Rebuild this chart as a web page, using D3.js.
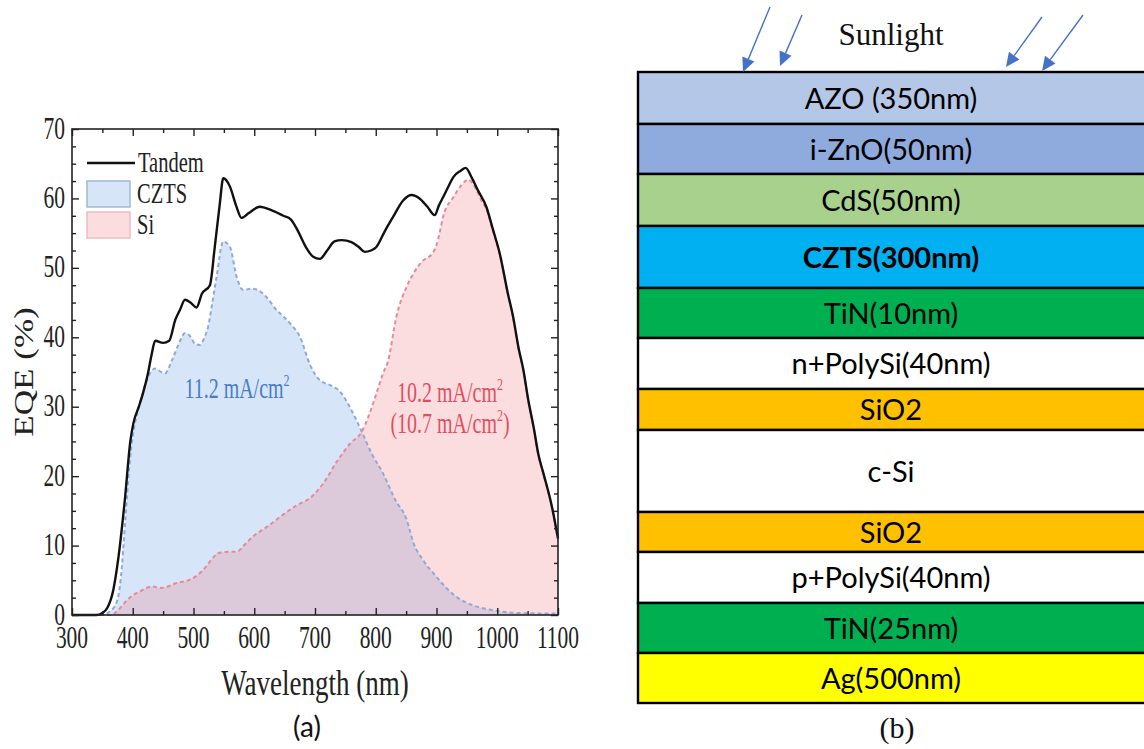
<!DOCTYPE html>
<html>
<head>
<meta charset="utf-8">
<script src="https://cdn.jsdelivr.net/npm/d3@7"></script>
<style>
  body { margin: 0; background: #fff; }
  svg { display: block; }
  .serif { font-family: "Liberation Serif", "Times New Roman", serif; }
  .sans { font-family: Lato, "Open Sans", sans-serif; }
</style>
</head>
<body>
<svg id="fig" width="1144" height="749"></svg>
<script>
// ---- data: [wavelength nm, EQE %] ----
const tandem = [[300,0],[340,0],[350,0.3],[358,1],[368,3.6],[376,8],[387,16.6],[396,25],[401,27.6],[410,30],
  [417,32],[425,34.8],[431,37.5],[437,39.5],[450,39.2],[460,39.5],[470,42.5],[478,44],[486,45.4],[495,45],
  [505,44.3],[514,46.3],[527,47.5],[535,53],[543,59],[549,62.9],[560,61.7],[570,59],[579,57.2],[591,57.9],
  [609,58.8],[628,58.3],[648,57.5],[660,57],[672,55.3],[685,53],[697,51.6],[708,51.3],[720,52.5],[732,53.8],
  [744,54],[760,53.7],[772,53],[782,52.3],[792,52.5],[801,53],[815,55.3],[829,57.4],[845,59.7],[859,60.5],
  [872,60],[885,58.8],[897,57.6],[904,59],[911,60.2],[920,61.8],[928,63.1],[940,64],[948,64.4],[958,63],
  [968,61.2],[982,58.8],[993,55.5],[1004,52.1],[1017,46.5],[1026,43],[1035,38.5],[1043,35.3],[1051,31],
  [1060,27],[1068,23],[1076,20.4],[1090,15.6],[1100,11]];

const czts = [[300,0],[350,0],[362,0.5],[373,1.7],[380,5],[388,14],[394,21],[398,24.5],[406,28.6],[415,31.5],
  [423,33.8],[437,35.5],[447,35],[453,34.8],[466,37],[478,39.5],[486,40.6],[495,40.1],[503,39],[511,38.9],
  [518,40],[524,41.5],[531,45],[538,48.7],[549,53.8],[560,53],[571,48.7],[582,46.8],[595,47],[606,46.8],
  [620,45.8],[637,43.9],[648,43],[659,42],[675,40.1],[692,36],[708,33.8],[725,33.1],[741,32.2],[760,29.5],
  [777,26.4],[793,23.3],[812,20.4],[832,16.6],[851,13.7],[862,10.4],[878,7.9],[900,5.5],[915,4],[933,2.6],
  [960,1.4],[993,0.7],[1030,0.3],[1100,0.2]];

const si = [[300,0],[365,0],[371,0.3],[379,1],[387,1.8],[395,2.5],[412,3.4],[431,4.1],[448,3.9],[472,4.6],
  [499,5.3],[516,6.5],[530,8],[540,8.9],[560,9.1],[571,9.1],[585,10.2],[598,11.3],[626,13],[648,14.5],
  [670,15.8],[694,17],[714,19],[736,22.1],[758,24.7],[777,26.4],[788,28.6],[801,31.9],[812,34.8],[820,36.5],
  [834,43],[851,47.3],[862,49.2],[876,50.9],[895,52.3],[900,53.3],[905,55],[911,57.4],[928,60.2],[941,61.9],
  [952,62.7],[966,61.2],[975,59.5],[982,58.5],[993,55.3],[1004,52],[1017,46.4],[1026,42.9],[1035,38.4],
  [1043,35.2],[1051,30.9],[1060,26.9],[1068,22.9],[1076,20.3],[1090,15.5],[1100,10.9]];

const wlTicks = [300,400,500,600,700,800,900,1000,1100];
const wlMinor = [350,450,550,650,750,850,950,1050];
const eqeTicks = [0,10,20,30,40,50,60,70];
const eqeMinor = d3.range(0, 70.1, 2.5).filter(v => v % 10 !== 0);

// ---- device stack (b) ----
const layerNames = ["AZO (350nm)","i-ZnO(50nm)","CdS(50nm)","CZTS(300nm)","TiN(10nm)","n+PolySi(40nm)",
  "SiO2","c-Si","SiO2","p+PolySi(40nm)","TiN(25nm)","Ag(500nm)"];
const layerColors = ["#b4c7e7","#8faadc","#a9d18e","#00b0f0","#00b050","#ffffff",
  "#ffc000","#ffffff","#ffc000","#ffffff","#00b050","#ffff00"];
const layerUnits = [52,50,52,62,50,51,41,82,40,51,50,50];
const boldLayer = "CZTS(300nm)";

const svg = d3.select("#fig");

// ---------- panel (a) ----------
const m = { left: 72, right: 558, top: 129, bottom: 615 };
const x = d3.scaleLinear().domain([300, 1100]).range([m.left, m.right]);
const y = d3.scaleLinear().domain([0, 70]).range([m.bottom, m.top]);

const blueFill = "rgb(120,170,230)", redFill = "rgb(240,120,130)";

const area = d3.area().x(d => x(d[0])).y0(y(0)).y1(d => y(d[1])).curve(d3.curveMonotoneX);
const line = d3.line().x(d => x(d[0])).y(d => y(d[1])).curve(d3.curveMonotoneX);

const pa = svg.append("g");
pa.append("path").datum(czts).attr("d", area).attr("fill", blueFill).attr("fill-opacity", 0.3);
pa.append("path").datum(si).attr("d", area).attr("fill", redFill).attr("fill-opacity", 0.25);
pa.append("path").datum(czts).attr("d", line).attr("fill", "none")
  .attr("stroke", "#8fa9d6").attr("stroke-width", 2).attr("stroke-dasharray", "4,3");
pa.append("path").datum(si).attr("d", line).attr("fill", "none")
  .attr("stroke", "#e8899a").attr("stroke-width", 2).attr("stroke-dasharray", "4,3");
pa.append("path").datum(tandem).attr("d", line).attr("fill", "none")
  .attr("stroke", "#111").attr("stroke-width", 2.4);

// frame + inward ticks on all four sides
pa.append("rect").attr("x", m.left).attr("y", m.top)
  .attr("width", m.right - m.left).attr("height", m.bottom - m.top)
  .attr("fill", "none").attr("stroke", "#222").attr("stroke-width", 1.6);

function ticks(axis, transform, values, size) {
  const g = pa.append("g").attr("transform", transform)
    .call(axis.tickValues(values).tickSize(-size).tickFormat(""));
  g.select(".domain").remove();
  g.selectAll("line").attr("stroke", "#222").attr("stroke-width", 1.4);
}
ticks(d3.axisBottom(x), `translate(0,${m.bottom})`, wlTicks, 7);
ticks(d3.axisBottom(x), `translate(0,${m.bottom})`, wlMinor, 4);
ticks(d3.axisTop(x), `translate(0,${m.top})`, wlTicks, 7);
ticks(d3.axisTop(x), `translate(0,${m.top})`, wlMinor, 4);
ticks(d3.axisLeft(y), `translate(${m.left},0)`, eqeTicks, 7);
ticks(d3.axisLeft(y), `translate(${m.left},0)`, eqeMinor, 4);
ticks(d3.axisRight(y), `translate(${m.right},0)`, eqeTicks, 7);
ticks(d3.axisRight(y), `translate(${m.right},0)`, eqeMinor, 4);

// text in the source figure is vertically stretched, so scale glyphs in y
function stext(g, px, py, sy, str) {
  return g.append("text").attr("class", "serif")
    .attr("transform", `translate(${px},${py}) scale(1,${sy})`).text(str);
}

pa.selectAll(".xl").data(wlTicks).join(d => d.append("text"))
  .attr("class", "serif").attr("text-anchor", "middle").attr("font-size", 21.5).attr("fill", "#222")
  .attr("transform", d => `translate(${x(d)},${648}) scale(1,1.45)`).text(d => d);
pa.selectAll(".yl").data(eqeTicks).join(d => d.append("text"))
  .attr("class", "serif").attr("text-anchor", "end").attr("font-size", 21.5).attr("fill", "#222")
  .attr("transform", d => `translate(${65},${y(d) + 9.5}) scale(1,1.45)`).text(d => d);

stext(pa, (m.left + m.right) / 2, 695, 1.3, "Wavelength (nm)")
  .attr("text-anchor", "middle").attr("font-size", 27).attr("fill", "#222");
pa.append("text").attr("class", "serif").attr("text-anchor", "middle")
  .attr("font-size", 27).attr("fill", "#222")
  .attr("transform", `translate(33,${(m.top + m.bottom) / 2}) rotate(-90) scale(1.3,1)`)
  .text("EQE (%)");

// legend
pa.append("line").attr("x1", 87).attr("x2", 135).attr("y1", 163).attr("y2", 163)
  .attr("stroke", "#111").attr("stroke-width", 2.4);
stext(pa, 138, 172, 1.4, "Tandem").attr("font-size", 20.5).attr("fill", "#222");
pa.append("rect").attr("x", 87).attr("y", 181).attr("width", 43).attr("height", 26)
  .attr("fill", blueFill).attr("fill-opacity", 0.3).attr("stroke", "#a4b6cf").attr("stroke-width", 1.5);
stext(pa, 137, 203, 1.4, "CZTS").attr("font-size", 20.5).attr("fill", "#222");
pa.append("rect").attr("x", 87).attr("y", 212).attr("width", 43).attr("height", 26)
  .attr("fill", redFill).attr("fill-opacity", 0.25).attr("stroke", "#edbcc3").attr("stroke-width", 1.5);
stext(pa, 137, 234, 1.4, "Si").attr("font-size", 20.5).attr("fill", "#222");

// current density annotations
function jsc(px, py, color, pre, post) {
  const t = stext(pa, px, py, 1.45, "").attr("text-anchor", "middle").attr("font-size", 20).attr("fill", color);
  t.append("tspan").text(pre);
  t.append("tspan").attr("font-size", 12).attr("dy", -8).text("2");
  if (post) t.append("tspan").attr("dy", 8).text(post);
  return t;
}
jsc(237, 398, "#4a7cc6", "11.2 mA/cm");
jsc(450, 402, "#df4f5f", "10.2 mA/cm");
jsc(450, 433, "#df4f5f", "(10.7 mA/cm", ")");

svg.append("text").attr("class", "sans").attr("x", 307).attr("y", 737)
  .attr("text-anchor", "middle").attr("font-size", 28).attr("fill", "#111").text("(a)");

// ---------- panel (b) ----------
const pb = svg.append("g");
const stackY = d3.scaleLinear().domain([0, d3.sum(layerUnits)]).range([72, 703]);
const starts = d3.cumsum([0, ...layerUnits]);
const layers = layerNames.map((name, i) => ({ name, color: layerColors[i], y0: starts[i], y1: starts[i + 1] }));

pb.selectAll("rect").data(layers).join("rect")
  .attr("x", 638).attr("width", 530)
  .attr("y", d => stackY(d.y0)).attr("height", d => stackY(d.y1) - stackY(d.y0))
  .attr("fill", d => d.color).attr("stroke", "#000").attr("stroke-width", 2.4);
pb.selectAll("text").data(layers).join("text")
  .attr("class", "sans").attr("x", 891)
  .attr("y", d => (stackY(d.y0) + stackY(d.y1)) / 2 + 10.5)
  .attr("text-anchor", "middle").attr("font-size", 29)
  .attr("font-weight", d => d.name === boldLayer ? 700 : 400)
  .attr("fill", "#000").text(d => d.name);

pb.append("text").attr("class", "serif").attr("x", 891).attr("y", 45)
  .attr("text-anchor", "middle").attr("font-size", 31).attr("fill", "#111").text("Sunlight");

// incoming light arrows
const rays = [[770, 7, 743, 72], [802, 15, 780, 66], [1042, 17, 1006, 67], [1083, 15, 1042, 71]];
rays.forEach(([x1, y1, x2, y2]) => {
  const a = Math.atan2(y2 - y1, x2 - x1), L = 14, w = 6.5;
  const bx = x2 - L * Math.cos(a), by = y2 - L * Math.sin(a);
  pb.append("line").attr("x1", x1).attr("y1", y1).attr("x2", bx).attr("y2", by)
    .attr("stroke", "#4472c4").attr("stroke-width", 1.4);
  const px = -Math.sin(a) * w, py = Math.cos(a) * w;
  pb.append("path").attr("d", `M${x2},${y2}L${bx + px},${by + py}L${bx - px},${by - py}Z`).attr("fill", "#4472c4");
});

pb.append("text").attr("class", "serif").attr("x", 897).attr("y", 738)
  .attr("text-anchor", "middle").attr("font-size", 30).attr("fill", "#111").text("(b)");
</script>
</body>
</html>
